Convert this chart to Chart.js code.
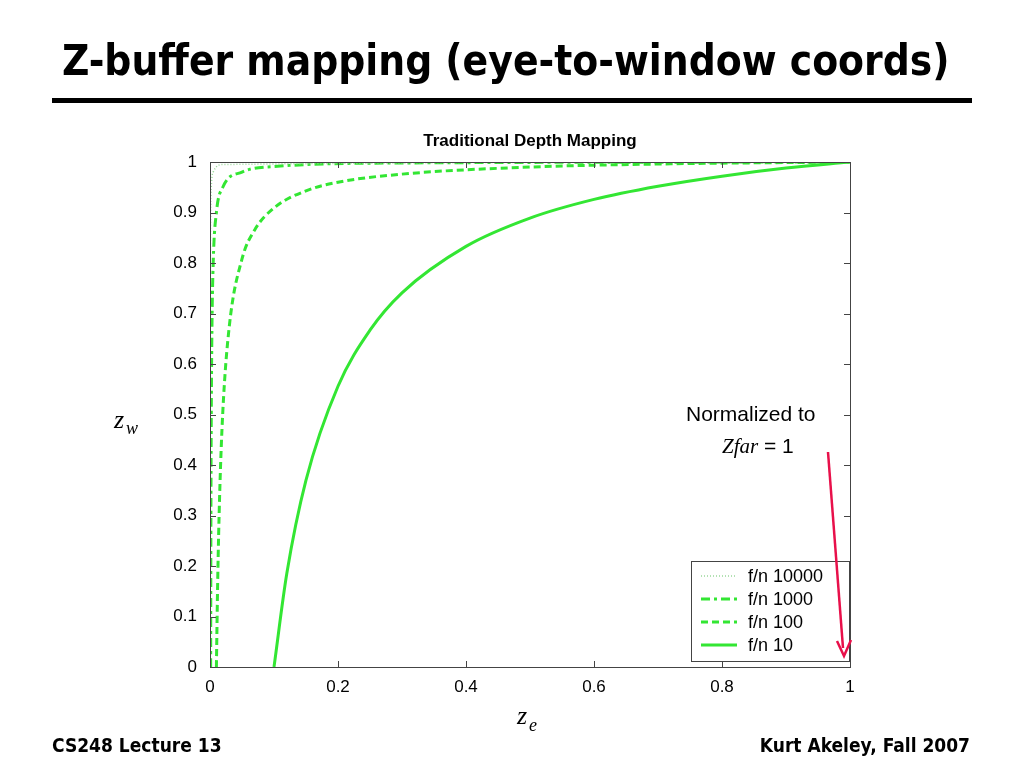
<!DOCTYPE html>
<html><head><meta charset="utf-8">
<script src="https://cdn.jsdelivr.net/npm/chart.js@4"></script>
<style>html,body{margin:0;padding:0;background:#fff}#c{display:block}</style>
</head><body>
<div style="width:1024px;height:768px"><canvas id="c" width="1024" height="768"></canvas></div>
<script>
const seriesNames = ['f/n 10000','f/n 1000','f/n 100','f/n 10'];
const x10000 = [0.0001,0.0002,0.0005,0.001,0.002,0.005,0.02,1];
const y10000 = [0,0.5,0.8,0.9,0.95,0.98,0.995,1];
const x1000 = [0.001,0.0015,0.002,0.003,0.005,0.01,0.02,0.05,0.1,0.3,1];
const y1000 = [0,0.334,0.5,0.667,0.8,0.9,0.95,0.98,0.991,0.998,1];
const x100 = [0.01,0.012,0.015,0.02,0.03,0.05,0.07,0.1,0.15,0.2,0.3,0.5,0.7,1];
const y100 = [0,0.168,0.337,0.505,0.673,0.808,0.866,0.909,0.943,0.960,0.976,0.990,0.996,1];
const x10 = [0.1,0.12,0.15,0.2,0.25,0.3,0.4,0.5,0.6,0.7,0.8,0.9,1];
const y10 = [0,0.185,0.37,0.556,0.667,0.741,0.833,0.889,0.926,0.952,0.972,0.988,1];
const xTicks = [0,0.2,0.4,0.6,0.8,1];
const yTicks = [0,0.1,0.2,0.3,0.4,0.5,0.6,0.7,0.8,0.9,1];

const G = '#33e633';
const pts = (xs,ys)=>xs.map((x,i)=>({x, y:ys[i]}));
const styles = [
  {w:1.5,d:[1,2],c:'#9ad89a'},{w:3,d:[9,4,3,4],c:G},{w:3,d:[7,4],c:G},{w:3,d:[],c:G}
];
const data = [pts(x10000,y10000),pts(x1000,y1000),pts(x100,y100),pts(x10,y10)];
const COND = '"DejaVu Sans Condensed","DejaVu Sans"';

const deco = {
  id:'deco',
  afterDraw(ch){
    const c=ch.ctx, xs=ch.scales.x, ys=ch.scales.y, a=ch.chartArea;
    c.save();
    c.fillStyle='#000';
    c.font='bold 42px '+COND;
    c.textBaseline='alphabetic';c.textAlign='left';
    c.fillText('Z-buffer mapping (eye-to-window coords)',62,75);
    c.fillRect(52,98,920,5);
    c.font='bold 19px '+COND;
    c.fillText('CS248 Lecture 13',52,752);
    c.textAlign='right';c.fillText('Kurt Akeley, Fall 2007',970,752);
    c.textAlign='center';c.font='bold 17px "Liberation Sans"';
    c.fillText('Traditional Depth Mapping',530,146);
    c.strokeStyle='#444';c.lineWidth=1;
    c.strokeRect(a.left+0.5,a.top+0.5,a.right-a.left,a.bottom-a.top);
    c.beginPath();
    yTicks.forEach(v=>{const p=Math.round(ys.getPixelForValue(v))+0.5;
      c.moveTo(a.left,p);c.lineTo(a.left+6,p);c.moveTo(a.right,p);c.lineTo(a.right-6,p);});
    xTicks.forEach(v=>{const p=Math.round(xs.getPixelForValue(v))+0.5;
      c.moveTo(p,a.bottom);c.lineTo(p,a.bottom-6);c.moveTo(p,a.top);c.lineTo(p,a.top+6);});
    c.stroke();
    c.fillStyle='#000';
    c.font='italic 26px "Liberation Serif"';c.textAlign='left';
    c.fillText('z',114,428);c.font='italic 18px "Liberation Serif"';c.fillText('w',126,434);
    c.font='italic 26px "Liberation Serif"';c.fillText('z',517,724);
    c.font='italic 18px "Liberation Serif"';c.fillText('e',529,731);
    c.fillStyle='#fff';c.fillRect(691,561,158,100);
    c.strokeStyle='#444';c.strokeRect(691.5,561.5,158,100);
    c.font='18px "Liberation Sans"';c.textAlign='left';c.textBaseline='middle';
    seriesNames.forEach((n,i)=>{
      const y=576+i*23;
      c.strokeStyle=styles[i].c;c.lineWidth=styles[i].w;c.setLineDash(styles[i].d);
      c.beginPath();c.moveTo(701,y);c.lineTo(737,y);c.stroke();
      c.setLineDash([]);c.fillStyle='#000';c.fillText(n,748,y+1);
    });
    c.textBaseline='alphabetic';
    c.font='21px "Liberation Sans"';c.fillText('Normalized to',686,421);
    c.font='italic 21px "Liberation Serif"';c.fillText('Zfar',722,453);
    c.font='21px "Liberation Sans"';c.fillText('= 1',764,453);
    c.strokeStyle='#e8104a';c.lineWidth=2.5;
    c.beginPath();c.moveTo(828,452);c.lineTo(843,648);c.stroke();
    c.lineWidth=2.5;c.beginPath();c.moveTo(837,641);c.lineTo(844,656);c.lineTo(851,640);c.stroke();
    c.restore();
  }
};

new Chart(document.getElementById('c'),{
  type:'line',
  data:{datasets:data.map((d,i)=>({label:seriesNames[i],data:d,borderColor:styles[i].c,
    borderWidth:styles[i].w,borderDash:styles[i].d,pointRadius:0,fill:false,
    cubicInterpolationMode:'monotone'}))},
  options:{
    responsive:false,animation:false,
    layout:{padding:{left:172,right:174,top:162,bottom:70}},
    plugins:{legend:{display:false},tooltip:{enabled:false}},
    scales:{
      x:{type:'linear',min:0,max:1,
        afterFit(s){s.height=31;},
        afterBuildTicks(s){s.ticks=xTicks.map(v=>({value:v}));},
        grid:{display:false},border:{display:false},
        ticks:{color:'#000',font:{family:'Liberation Sans',size:17},padding:2,maxRotation:0,
          callback:v=>String(v)}},
      y:{type:'linear',min:0,max:1,
        afterFit(s){s.width=38;},
        afterBuildTicks(s){s.ticks=yTicks.map(v=>({value:v}));},
        grid:{display:false},border:{display:false},
        ticks:{color:'#000',font:{family:'Liberation Sans',size:17},padding:5,
          callback:v=>String(Math.round(v*10)/10)}}
    }
  },
  plugins:[deco]
});
</script>
</body></html>
